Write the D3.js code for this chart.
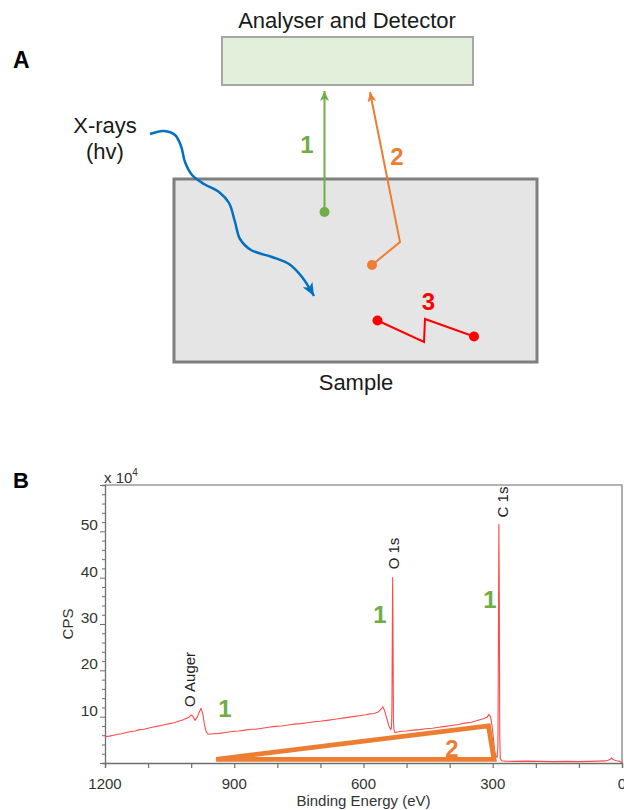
<!DOCTYPE html>
<html><head><meta charset="utf-8">
<script src="https://cdn.jsdelivr.net/npm/d3@7"></script>
<style>body{margin:0;background:#fff} svg{display:block;font-family:"Liberation Sans",Arial,sans-serif}</style>
</head><body><svg id="c" width="624" height="810"></svg>
<script>
// ---------- DATA (panel B: XPS survey spectrum) ----------
const xTicks = d3.range(0, 1201, 100);          // Binding energy ticks (eV)
const xTickLabels = [1200, 900, 600, 300, 0];
const yTicks = d3.range(0, 61, 2);              // CPS x10^4 ticks
const yTickLabels = [10, 20, 30, 40, 50];

// [binding energy eV, CPS x 10^4]
const spectrum = [
  [1200,5.7],[1190,5.8],[1180,6.0],[1170,6.2],[1162,6.3],[1150,6.6],[1140,6.8],[1130,6.9],
  [1120,7.2],[1110,7.3],[1100,7.5],[1090,7.7],[1080,7.9],[1070,8.1],[1060,8.3],[1050,8.5],
  [1040,8.7],[1030,9.0],[1020,9.3],[1012,9.6],[1005,9.9],[1000,10.4],[996,10.1],[991,9.2],
  [986,9.9],[981,11.0],[977,11.8],[973,10.6],[969,8.2],[965,6.7],[960,6.2],[950,6.3],
  [935,6.4],[920,6.6],[905,6.8],[890,6.9],[875,7.1],[860,7.3],[850,7.3],[835,7.5],[820,7.7],
  [805,7.9],[790,8.0],[775,8.2],[760,8.4],[745,8.5],[730,8.7],[715,8.9],[700,9.0],[685,9.2],
  [670,9.4],[655,9.6],[640,9.8],[625,10.0],[610,10.2],[595,10.4],[585,10.6],[575,10.7],
  [566,11.0],[560,11.6],[555,12.1],[551,11.3],[546,9.6],[541,8.0],[537,7.2],[535,7.6],
  [534,12],[533,30],[532.3,40.0],[531.5,28],[530.5,9],[529,7.0],[527,6.6],[515,6.8],
  [500,6.9],[485,7.1],[470,7.2],[455,7.4],[440,7.5],[425,7.7],[410,7.9],[395,8.1],[380,8.3],
  [365,8.6],[350,8.8],[338,9.1],[328,9.4],[320,9.6],[313,9.9],[309,10.5],[305,9.9],
  [302,8.2],[299,5.8],[296,2.8],[293,1.5],[290,1.2],[288,3.5],[286.8,28],[285.8,51.5],
  [284.8,36],[283.8,6],[282.5,0.9],[279,0.5],[270,0.4],[250,0.35],[220,0.4],[190,0.35],
  [160,0.3],[130,0.35],[100,0.3],[75,0.35],[55,0.4],[40,0.45],[32,0.6],[27,0.8],[24,1.1],
  [21,0.8],[17,0.6],[12,0.5],[6,0.4],[2,0.2],[0,0.05]
];

const peakLabels = [
  { text: "O Auger", ev: 991, cps: 12.1 },
  { text: "O 1s",    ev: 518, cps: 41.8 },
  { text: "C 1s",    ev: 265, cps: 53.0 }
];
const numberLabels = [
  { text: "1", ev: 921.5, cps: 10.0, color: "#70ad47" },
  { text: "1", ev: 561.7, cps: 30.3, color: "#70ad47" },
  { text: "1", ev: 306.4, cps: 33.5, color: "#70ad47" },
  { text: "2", ev: 394.6, cps: 1.3,  color: "#ed7d31" }
];
const triangle = [[942,0.8],[310,8.0],[297,0.8]];   // inelastic background sketch

// ---------- DRAW ----------
const svg = d3.select("#c");
const defs = svg.append("defs");
function arrowMarker(id, color, w, l) {
  defs.append("marker").attr("id", id).attr("markerUnits", "userSpaceOnUse")
    .attr("viewBox", `0 ${-w/2} ${l} ${w}`).attr("refX", l).attr("refY", 0)
    .attr("markerWidth", l).attr("markerHeight", w).attr("orient", "auto")
    .append("path").attr("d", `M0,${-w/2}L${l},0L0,${w/2}L${l*0.25},0Z`).attr("fill", color);
}
arrowMarker("ag", "#70ad47", 9, 10);
arrowMarker("ao", "#ed7d31", 9, 10);
arrowMarker("ab", "#0070c0", 11, 13);

// Panel A
const A = svg.append("g");
A.append("text").attr("x", 13).attr("y", 68).attr("font-size", 23).attr("font-weight", "bold").text("A");
A.append("text").attr("x", 347).attr("y", 28).attr("text-anchor", "middle").attr("font-size", 22).attr("fill", "#1a1a1a").text("Analyser and Detector");
A.append("rect").attr("x", 222).attr("y", 37).attr("width", 251).attr("height", 48)
  .attr("fill", "#e2efda").attr("stroke", "#a6a6a6").attr("stroke-width", 2);
A.append("rect").attr("x", 174).attr("y", 179).attr("width", 363).attr("height", 183)
  .attr("fill", "#e5e5e5").attr("stroke", "#7f7f7f").attr("stroke-width", 3);
A.append("text").attr("x", 356).attr("y", 390).attr("text-anchor", "middle").attr("font-size", 22).attr("fill", "#1a1a1a").text("Sample");
A.append("text").attr("x", 105).attr("y", 133).attr("text-anchor", "middle").attr("font-size", 22).attr("fill", "#1a1a1a").text("X-rays");
A.append("text").attr("x", 105).attr("y", 159).attr("text-anchor", "middle").attr("font-size", 22).attr("fill", "#1a1a1a").text("(hv)");

// blue X-ray wave
const wave = [[150,134],[164,131],[175,135],[181,146],[185,162],[192,175],[204,184],[219,192],
  [229,203],[235,222],[240,239],[251,250],[272,257],[289,264],[302,277],[314,296]];
A.append("path").attr("d", d3.line().curve(d3.curveCatmullRom)(wave))
  .attr("fill", "none").attr("stroke", "#0070c0").attr("stroke-width", 2.5).attr("marker-end", "url(#ab)");

// green path 1
A.append("line").attr("x1", 324.5).attr("y1", 212).attr("x2", 324.5).attr("y2", 91)
  .attr("stroke", "#70ad47").attr("stroke-width", 2).attr("marker-end", "url(#ag)");
A.append("circle").attr("cx", 324.5).attr("cy", 212).attr("r", 5).attr("fill", "#70ad47");
A.append("text").attr("x", 307).attr("y", 153).attr("text-anchor", "middle").attr("font-size", 24).attr("font-weight", "bold").attr("fill", "#70ad47").text("1");

// orange path 2
A.append("path").attr("d", "M372,265L400,242L370,92")
  .attr("fill", "none").attr("stroke", "#ed7d31").attr("stroke-width", 2).attr("marker-end", "url(#ao)");
A.append("circle").attr("cx", 372).attr("cy", 265).attr("r", 5).attr("fill", "#ed7d31");
A.append("text").attr("x", 397).attr("y", 165).attr("text-anchor", "middle").attr("font-size", 24).attr("font-weight", "bold").attr("fill", "#ed7d31").text("2");

// red path 3
A.append("path").attr("d", "M377.5,320.5L424,342L425,319L474,336.5")
  .attr("fill", "none").attr("stroke", "#ff0000").attr("stroke-width", 2);
A.append("circle").attr("cx", 377.5).attr("cy", 320.5).attr("r", 5).attr("fill", "#ff0000");
A.append("circle").attr("cx", 474).attr("cy", 336.5).attr("r", 5).attr("fill", "#ff0000");
A.append("text").attr("x", 428.5).attr("y", 310).attr("text-anchor", "middle").attr("font-size", 24).attr("font-weight", "bold").attr("fill", "#ff0000").text("3");

// Panel B
const B = svg.append("g");
B.append("text").attr("x", 13).attr("y", 488).attr("font-size", 22).attr("font-weight", "bold").text("B");

const pL = 105, pR = 622, pT = 485, pB = 763;
const x = d3.scaleLinear().domain([1200, 0]).range([pL, pR]);
const y = d3.scaleLinear().domain([0, 60]).range([pB, pT]);

// frame
B.append("path").attr("d", `M${pL},${pT}H${pR}V${pB}`).attr("fill", "none")
  .attr("stroke", "#9a9a9a").attr("stroke-width", 1.6);

// x axis
const xAxis = B.append("g").attr("transform", `translate(0,${pB})`)
  .call(d3.axisBottom(x).tickValues(xTicks).tickSize(5).tickFormat(""));
xAxis.select(".domain").attr("stroke", "#6e6e6e").attr("stroke-width", 1.3);
xAxis.selectAll(".tick line").attr("stroke", "#6e6e6e").attr("stroke-width", 1.2);
B.selectAll(".xl").data(xTickLabels).join("text").attr("class", "xl")
  .attr("x", d => x(d)).attr("y", pB + 26).attr("text-anchor", "middle")
  .attr("font-size", 15).attr("fill", "#333").text(d => d);

// y axis
const yAxis = B.append("g").attr("transform", `translate(${pL},0)`)
  .call(d3.axisLeft(y).tickValues(yTicks).tickSize(3).tickFormat(""));
yAxis.select(".domain").attr("stroke", "#6e6e6e").attr("stroke-width", 1.3);
yAxis.selectAll(".tick line").attr("stroke", "#6e6e6e").attr("stroke-width", 1)
  .attr("x2", d => (d % 10 === 0 ? -5 : -3));
B.selectAll(".yl").data(yTickLabels).join("text").attr("class", "yl")
  .attr("x", pL - 7).attr("y", d => y(d) - 1).attr("text-anchor", "end")
  .attr("font-size", 15.5).attr("fill", "#333").text(d => d);

// multiplier
const mult = B.append("text").attr("x", 104).attr("y", 483).attr("font-size", 15).attr("fill", "#333");
mult.append("tspan").text("x 10");
mult.append("tspan").attr("font-size", 10).attr("dy", -7).text("4");

// axis titles
B.append("text").attr("x", (pL + pR) / 2).attr("y", 806).attr("text-anchor", "middle")
  .attr("font-size", 15).attr("fill", "#333").text("Binding Energy (eV)");
B.append("text").attr("transform", `translate(73,${(pT + pB) / 2}) rotate(-90)`)
  .attr("text-anchor", "middle").attr("font-size", 15).attr("fill", "#333").text("CPS");

// spectrum
const plot = B.append("g");
plot.append("path").datum(spectrum)
  .attr("d", d3.line().x(d => x(d[0])).y(d => y(d[1])))
  .attr("fill", "none").attr("stroke", "#ff4a4a").attr("stroke-width", 1.1).attr("stroke-linejoin", "round");

// triangle
plot.append("path").datum(triangle)
  .attr("d", d3.line().x(d => x(d[0])).y(d => y(d[1])).curve(d3.curveLinearClosed))
  .attr("fill", "none").attr("stroke", "#ed7d31").attr("stroke-width", 4.8).attr("stroke-linejoin", "miter");

// peak labels (rotated)
plot.selectAll(".pl").data(peakLabels).join("text").attr("class", "pl")
  .attr("transform", d => `translate(${x(d.ev)},${y(d.cps)}) rotate(-90)`)
  .attr("font-size", 15).attr("fill", "#222").text(d => d.text);

// number labels
plot.selectAll(".nl").data(numberLabels).join("text").attr("class", "nl")
  .attr("x", d => x(d.ev)).attr("y", d => y(d.cps)).attr("text-anchor", "middle")
  .attr("font-size", 24).attr("font-weight", "bold").attr("fill", d => d.color).text(d => d.text);
</script></body></html>
